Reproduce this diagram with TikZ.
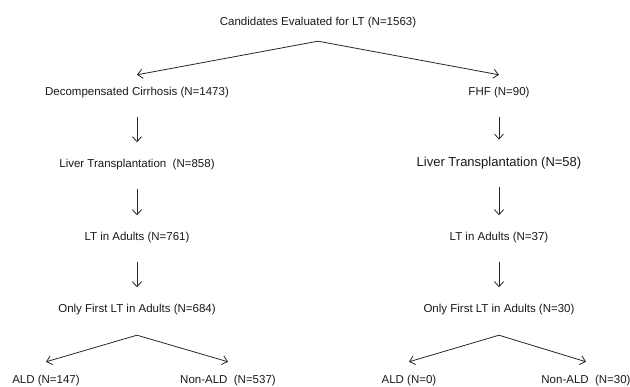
\documentclass[tikz,border=0pt]{standalone}
\usepackage{fontspec}
\setmainfont{Liberation Sans}
\usetikzlibrary{arrows.meta}

\begin{document}
\begin{tikzpicture}[x=1pt,y=-1pt,
    box/.style={inner sep=0pt,text height=8.5pt,text depth=2.5pt,text=black!90,
      font=\fontsize{11.5}{13}\selectfont},
    big/.style={box,text height=9.5pt,text depth=2.8pt,font=\fontsize{13}{15}\selectfont},
    arr/.style={draw=black!85,line width=0.8pt,-{Straight Barb[length=5pt,width=9pt]}},
    down/.style={arr,shorten <=18pt,shorten >=17pt}]
  \useasboundingbox (0,0) rectangle (630,387);

  \node[box] (cand) at (318,23) {Candidates Evaluated for LT (N=1563)};
  \coordinate (forktop) at ([yshift=-12.5pt]cand.south);

  \node[box] (cirr) at (137,93) {Decompensated Cirrhosis (N=1473)};
  \node[box] (ltcirr) at (137,165) {Liver Transplantation\ \ (N=858)};
  \node[box] (adcirr) at (137,238) {LT in Adults (N=761)};
  \node[box] (frcirr) at (137,310) {Only First LT in Adults (N=684)};
  \coordinate (forkcirr) at ([yshift=-19.5pt]frcirr.south);
  \node[box] (aldcirr) at (46,381) {ALD (N=147)};
  \node[box] (nonaldcirr) at (228,381) {Non-ALD\ \ (N=537)};

  \node[box] (fhf) at (499,93) {FHF (N=90)};
  \node[big] (ltfhf) at (499,163) {Liver Transplantation (N=58)};
  \node[box] (adfhf) at (499,238) {LT in Adults (N=37)};
  \node[box] (frfhf) at (499,310) {Only First LT in Adults (N=30)};
  \coordinate (forkfhf) at ([yshift=-19.5pt]frfhf.south);
  \node[box] (aldfhf) at (409,381) {ALD (N=0)};
  \node[box] (nonaldfhf) at (586,381) {Non-ALD\ \ (N=30)};

  \draw[arr] (forktop) -- ([yshift=12.5pt]cirr.north);
  \draw[arr] (forktop) -- ([yshift=12.5pt]fhf.north);

  \draw[down] (cirr) -- (ltcirr);
  \draw[down] (ltcirr) -- (adcirr);
  \draw[down] (adcirr) -- (frcirr);
  \draw[arr] (forkcirr) -- ([yshift=13.5pt]aldcirr.north);
  \draw[arr] (forkcirr) -- ([yshift=13.5pt]nonaldcirr.north);

  \draw[down] (fhf) -- (ltfhf);
  \draw[down] (ltfhf) -- (adfhf);
  \draw[down] (adfhf) -- (frfhf);
  \draw[arr] (forkfhf) -- ([yshift=13.5pt]aldfhf.north);
  \draw[arr] (forkfhf) -- ([yshift=13.5pt]nonaldfhf.north);
\end{tikzpicture}
\end{document}
